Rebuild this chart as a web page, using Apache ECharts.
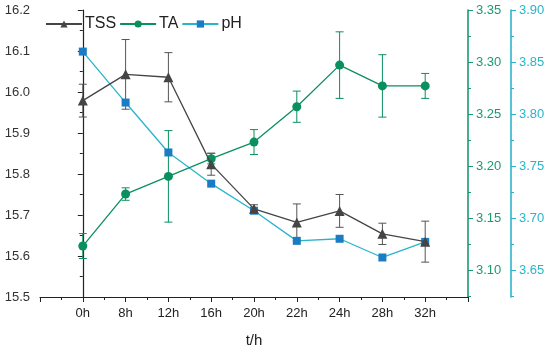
<!DOCTYPE html>
<html>
<head>
<meta charset="utf-8">
<script src="https://cdn.jsdelivr.net/npm/echarts@6/dist/echarts.min.js"></script>
<style>html,body{margin:0;padding:0;background:#fff}#c{width:550px;height:346px}</style>
</head>
<body>
<div id="c"></div>
<script>
var categories = ['0h','8h','12h','16h','20h','22h','24h','28h','32h'];
var tss = [15.979, 16.043, 16.036, 15.824, 15.715, 15.682, 15.710, 15.654, 15.635];
var tssErr = [0.040, 0.085, 0.060, 0.027, 0.010, 0.045, 0.040, 0.026, 0.050];
var ta = [3.123, 3.173, 3.190, 3.207, 3.223, 3.257, 3.297, 3.277, 3.277];
var taErr = [0.012, 0.006, 0.044, 0.005, 0.012, 0.015, 0.032, 0.030, 0.012];
var ph = [3.860, 3.811, 3.763, 3.733, 3.707, 3.678, 3.680, 3.662, 3.677];
var leftTicks = [15.5, 15.6, 15.7, 15.8, 15.9, 16.0, 16.1, 16.2];
var taTicks = [3.10, 3.15, 3.20, 3.25, 3.30, 3.35];
var taMinor = [3.075, 3.125, 3.175, 3.225, 3.275, 3.325];
var phTicks = [3.65, 3.70, 3.75, 3.80, 3.85, 3.90];
var phMinor = [3.625, 3.675, 3.725, 3.775, 3.825, 3.875];

var cTSS = '#454545', cTA = '#0a8f5e', cTAaxis = '#1a9a72', cPHline = '#2ab4cc', cPHmark = '#1a7cc4';
var font = 'Liberation Sans, Arial, sans-serif';

function pairs(arr){ return arr.map(function(v,i){ return [i, v]; }); }
function errs(arr, e){ return arr.map(function(v,i){ return [i, v - e[i], v + e[i]]; }); }
function errRender(color){
  return function(params, api){
    var x = api.value(0);
    var lo = api.coord([x, api.value(1)]);
    var hi = api.coord([x, api.value(2)]);
    var w = 4;
    var st = {stroke: color, lineWidth: 1};
    return {type:'group', children:[
      {type:'line', shape:{x1:lo[0], y1:lo[1], x2:hi[0], y2:hi[1]}, style: st},
      {type:'line', shape:{x1:lo[0]-w, y1:lo[1], x2:lo[0]+w, y2:lo[1]}, style: st},
      {type:'line', shape:{x1:hi[0]-w, y1:hi[1], x2:hi[0]+w, y2:hi[1]}, style: st}
    ]};
  };
}

var chart = echarts.init(document.getElementById('c'), null, {renderer:'canvas'});
var rightAxisBase = function(min, max, color, offset, ticks){
  return {
    type:'value', position:'right', min:min, max:max, offset:offset,
    axisLine:{show:true, lineStyle:{color:color, width:1.6}},
    axisTick:{show:true, inside:false, length:5, lineStyle:{color:color}, customValues: ticks},
    axisLabel:{show:true, color:color, fontSize:13, fontFamily:font, margin:8, customValues: ticks,
      formatter:function(v){ return v.toFixed(2); }},
    splitLine:{show:false}
  };
};
var minorAxis = function(min, max, color, offset, ticks){
  return {
    type:'value', position:'right', min:min, max:max, offset:offset,
    axisLine:{show:false},
    axisTick:{show:true, inside:false, length:3, lineStyle:{color:color}, customValues: ticks},
    axisLabel:{show:false},
    splitLine:{show:false}
  };
};

chart.setOption({
  animation:false,
  backgroundColor:'#fff',
  grid:{left:40, right:82, top:10, bottom:49, containLabel:false, outerBoundsMode:'none'},
  legend:{
    left:40, top:11, itemWidth:36, itemHeight:9, itemGap:3,
    textStyle:{fontSize:16, fontFamily:font, color:'#222', padding:[0,0,0,-2]},
    data:['TSS','TA','pH']
  },
  xAxis:{
    type:'value', min:-1, max:9, interval:1,
    name:'t/h', nameLocation:'middle', nameGap:36,
    nameTextStyle:{fontSize:15, fontFamily:font, color:'#222'},
    axisLine:{show:true, onZero:false, lineStyle:{color:'#222', width:1.2}},
    axisTick:{show:true, inside:false, length:5, lineStyle:{color:'#222'}},
    minorTick:{show:true, splitNumber:2, length:3, lineStyle:{color:'#222'}},
    axisLabel:{fontSize:13, fontFamily:font, color:'#222', margin:10,
      formatter:function(v){ var i = Math.round(v); return (i>=0 && i<categories.length) ? categories[i] : ''; }},
    splitLine:{show:false}, minorSplitLine:{show:false}
  },
  yAxis:[
    {
      type:'value', position:'left', min:15.5, max:16.2, interval:0.1,
      axisLine:{show:true, lineStyle:{color:'#222', width:1.2}},
      axisTick:{show:true, inside:false, length:5, lineStyle:{color:'#222'}},
      minorTick:{show:true, splitNumber:2, length:3, lineStyle:{color:'#222'}},
      axisLabel:{fontSize:13, fontFamily:font, color:'#333', margin:10,
        formatter:function(v){ return v.toFixed(1); }},
      splitLine:{show:false}, minorSplitLine:{show:false}
    },
    rightAxisBase(3.074, 3.35, cTAaxis, 0, taTicks),
    rightAxisBase(3.624, 3.90, cPHline, 43, phTicks),
    minorAxis(3.074, 3.35, cTAaxis, 0, taMinor),
    minorAxis(3.624, 3.90, cPHline, 43, phMinor)
  ],
  series:[
    {type:'custom', name:'tssErr', yAxisIndex:0, renderItem:errRender('#555'), data:errs(tss, tssErr), z:2},
    {type:'custom', name:'taErr', yAxisIndex:1, renderItem:errRender(cTA), data:errs(ta, taErr), z:2},
    {type:'line', name:'pH', yAxisIndex:2, data:pairs(ph), symbol:'rect', symbolSize:8,
      lineStyle:{color:cPHline, width:1.3}, itemStyle:{color:cPHmark}, z:3},
    {type:'line', name:'TA', yAxisIndex:1, data:pairs(ta), symbol:'circle', symbolSize:9,
      lineStyle:{color:cTA, width:1.3}, itemStyle:{color:cTA}, z:4},
    {type:'line', name:'TSS', yAxisIndex:0, data:pairs(tss), symbol:'triangle', symbolSize:10,
      lineStyle:{color:cTSS, width:1.3}, itemStyle:{color:cTSS}, z:5}
  ]
});
</script>
</body>
</html>
